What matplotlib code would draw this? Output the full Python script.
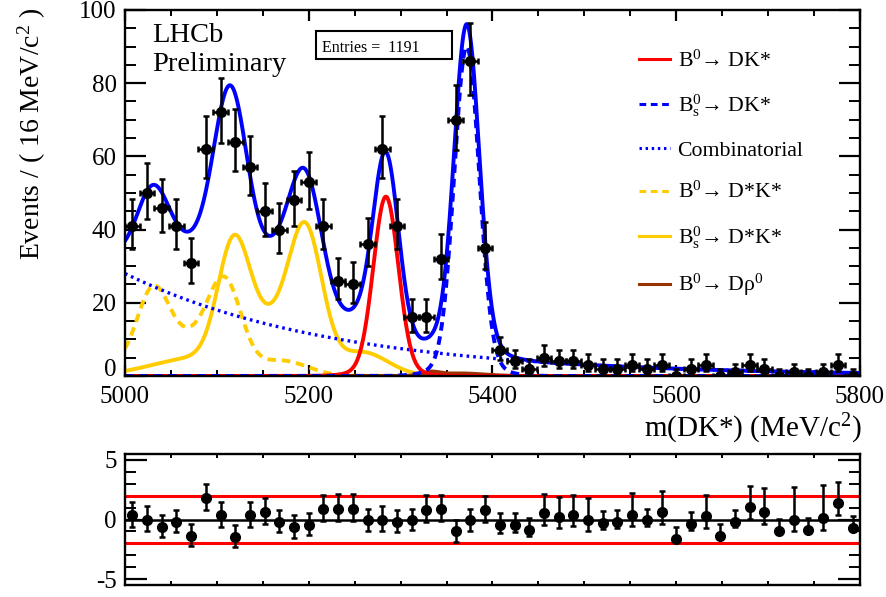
import numpy as np
import matplotlib
matplotlib.use("Agg")
import matplotlib.pyplot as plt
from matplotlib.lines import Line2D
from matplotlib.patches import Rectangle
from matplotlib.ticker import MultipleLocator, FuncFormatter

plt.rcParams['font.family'] = ['Liberation Serif', 'DejaVu Serif']
plt.rcParams['mathtext.fontset'] = 'custom'
plt.rcParams['mathtext.rm'] = 'Liberation Serif'
plt.rcParams['mathtext.it'] = 'Liberation Serif:italic'
plt.rcParams['axes.unicode_minus'] = False

# binned data: 16 MeV bins between 5000 and 5800
m_lo, m_hi, bin_w = 5000, 5800, 16
counts = [41, 50, 46, 41, 31, 62, 72, 64, 57, 45,
          40, 48, 53, 41, 26, 25, 36, 62, 41, 16,
          16, 32, 70, 86, 35, 7, 4, 2, 5, 4,
          4, 3, 2, 2, 3, 2, 3, 0, 2, 3,
          0, 1, 3, 2, 0, 1, 0, 1, 3, 0]
pulls = [0.34, 0.0, -0.59, -0.17, -1.36, 1.84, 0.34, -1.44, 0.34, 0.62,
         -0.23, -0.65, -0.45, 0.9, 0.9, 0.9, -0.08, 0.0, -0.17, -0.08,
         0.76, 0.9, -1.0, -0.08, 0.76, -0.45, -0.45, -0.87, 0.57, 0.25,
         0.42, 0.0, -0.31, -0.23, 0.42, -0.08, 0.62, -1.64, -0.37, 0.28,
         -1.36, -0.23, 1.04, 0.62, -0.99, 0.0, -0.85, 0.14, 1.38, -0.7]
n_entries = 1191

# fit components, each as (mean, sigma, height per bin) terms
bd_dkst = [(5284, 13.5, 47.0), (5284, 28, 2.0)]
bs_dkst = [(5372, 13.5, 86.0), (5372, 28, 4.0)]
comb_norm, comb_slope = 28.0, -0.0044
bd_dstkst = [(5030, 17, 19.0), (5109, 18, 23.0), (5070, 28, 9.0),
             (4987, 55, 3.2), (5170, 28, 4.2)]
bs_dstkst = [(5118, 17, 30.0), (5197, 18, 36.0), (5158, 28, 13.0),
             (5080, 50, 5.0), (5258, 28, 6.5)]
bd_drho = [(5333, 9, 0.9), (5365, 25, 0.7)]

blue = '#0000ff'
red = '#ff0000'
yellow = '#ffcc00'
brown = '#993300'


def shape(x, terms):
    y = np.zeros_like(x)
    for mu, sig, h in terms:
        y += h * np.exp(-0.5 * ((x - mu) / sig) ** 2)
    return y


m = np.linspace(m_lo, m_hi, 1601)
c_bd = shape(m, bd_dkst)
c_bs = shape(m, bs_dkst)
c_comb = comb_norm * np.exp(comb_slope * (m - m_lo))
c_bdst = shape(m, bd_dstkst)
c_bsst = shape(m, bs_dstkst)
c_rho = shape(m, bd_drho)
c_tot = c_bd + c_bs + c_comb + c_bdst + c_bsst + c_rho

centres = np.arange(m_lo + bin_w / 2, m_hi, bin_w)
n = np.array(counts, dtype=float)
nn = np.maximum(n, 1)
err_lo = np.where(n > 0, n - n * (1 - 1 / (9 * nn) - 1 / (3 * np.sqrt(nn))) ** 3, 0.0)
err_hi = (n + 1) * (1 - 1 / (9 * (n + 1)) + 1 / (3 * np.sqrt(n + 1))) ** 3 - n

p = np.array(pulls)
safe_lo = np.where(err_lo > 0, err_lo, 1)
p_lo = np.where(p >= 0, 1.0, err_lo / err_hi)
p_hi = np.where(p >= 0, err_hi / safe_lo, 1.0)

fig = plt.figure(figsize=(8.87, 5.97), dpi=100)
ax = fig.add_axes([0.1409, 0.3702, 0.8286, 0.6131])
axp = fig.add_axes([0.1409, 0.0201, 0.8286, 0.2194])

ax.plot(m, c_bsst, color=yellow, lw=2.8)
ax.plot(m, c_bdst, color=yellow, lw=2.8, ls=(0, (2.2, 1.5)))
ax.plot(m, c_comb, color=blue, lw=2.4, ls=(0, (0.8, 1.2)))
ax.plot(m, c_rho, color=brown, lw=2.8)
ax.plot(m, c_bd, color=red, lw=2.8)
ax.plot(m, c_bs, color=blue, lw=2.8, ls=(0, (2.2, 1.5)))
ax.plot(m, c_tot, color=blue, lw=2.8)

ax.errorbar(centres, n, yerr=[err_lo, err_hi], xerr=bin_w / 2, fmt='o', ms=7,
            color='black', elinewidth=1.8, capsize=2.5, capthick=1.8, zorder=5)

ax.set_xlim(m_lo, m_hi)
ax.set_ylim(0, 100)
ax.xaxis.set_major_locator(MultipleLocator(200))
ax.xaxis.set_minor_locator(MultipleLocator(50))
ax.yaxis.set_major_locator(MultipleLocator(20))
ax.yaxis.set_minor_locator(MultipleLocator(5))
# the "0" sits a bit higher in the original, drawn separately below
ax.yaxis.set_major_formatter(FuncFormatter(lambda v, pos: '' if v == 0 else '%g' % v))
ax.tick_params(axis='x', which='major', direction='in', top=True, length=8, width=1.6,
               labelsize=18, pad=7)
ax.tick_params(axis='x', which='minor', direction='in', top=True, length=4.5, width=1.4)
ax.tick_params(axis='y', which='major', direction='in', right=True, length=15, width=1.6,
               labelsize=18, pad=6)
ax.tick_params(axis='y', which='minor', direction='in', right=True, length=8, width=1.4)
for s in ax.spines.values():
    s.set_linewidth(1.7)
ax.text(-0.0115, 0.016, '0', fontsize=18, transform=ax.transAxes, ha='right', va='center')

ax.set_ylabel(r'Events / ( 16 MeV/c$^{2}$ )', fontsize=20, loc='top')
ax.yaxis.set_label_coords(-0.105, 1.008)
ax.set_xlabel(r'm(DK*) (MeV/c$^{2}$)', fontsize=21, loc='right')
ax.xaxis.set_label_coords(1.003, -0.098)

ax.text(0.0367, 0.9126, 'LHCb', fontsize=20.5, transform=ax.transAxes, va='baseline')
ax.text(0.0367, 0.8333, 'Preliminary', fontsize=20.5, transform=ax.transAxes, va='baseline')
ax.add_patch(Rectangle((0.260, 0.866), 0.185, 0.0766, transform=ax.transAxes,
                       fill=False, lw=1.5, ec='black', zorder=6))
ax.text(0.268, 0.885, 'Entries =  %d' % n_entries, fontsize=11.5, transform=ax.transAxes,
        va='baseline', zorder=7)

handles = [
    Line2D([], [], color=red, lw=2.2),
    Line2D([], [], color=blue, lw=2.2, ls=(0, (2.2, 1.5))),
    Line2D([], [], color=blue, lw=2.2, ls=(0, (0.8, 1.2))),
    Line2D([], [], color=yellow, lw=2.2, ls=(0, (2.2, 1.5))),
    Line2D([], [], color=yellow, lw=2.2),
    Line2D([], [], color=brown, lw=2.2),
]
labels = [
    'B$^{0}$→ DK*',
    r'B$_{\mathrm{s}}^{0}$→ DK*',
    'Combinatorial',
    'B$^{0}$→ D*K*',
    r'B$_{\mathrm{s}}^{0}$→ D*K*',
    'B$^{0}$→ Dρ$^{0}$',
]
ax.legend(handles, labels, loc='upper left', bbox_to_anchor=(0.700, 0.890), frameon=False,
          fontsize=15.7, handlelength=1.4, handletextpad=0.35, labelspacing=0.98,
          borderpad=0, borderaxespad=0)

# pull panel
axp.axhline(0, color='black', lw=1.8)
axp.axhline(2, color=red, lw=2.2)
axp.axhline(-2, color=red, lw=2.2)
axp.errorbar(centres, p, yerr=[p_lo, p_hi], fmt='o', ms=7, color='black',
             elinewidth=1.8, capsize=2.5, capthick=1.8, zorder=5)
axp.set_xlim(m_lo, m_hi)
axp.set_ylim(-5.5, 5.5)
axp.xaxis.set_major_locator(MultipleLocator(200))
axp.xaxis.set_minor_locator(MultipleLocator(50))
axp.yaxis.set_major_locator(MultipleLocator(5))
axp.yaxis.set_minor_locator(MultipleLocator(1))
axp.tick_params(axis='x', which='both', direction='in', top=True, length=3, width=1.4,
                labelbottom=False)
axp.tick_params(axis='y', which='major', direction='in', right=True, length=16, width=1.6,
                labelsize=18, pad=6)
axp.tick_params(axis='y', which='minor', direction='in', right=True, length=8, width=1.4)
for s in axp.spines.values():
    s.set_linewidth(1.7)

fig.savefig('out.png', dpi=100)
